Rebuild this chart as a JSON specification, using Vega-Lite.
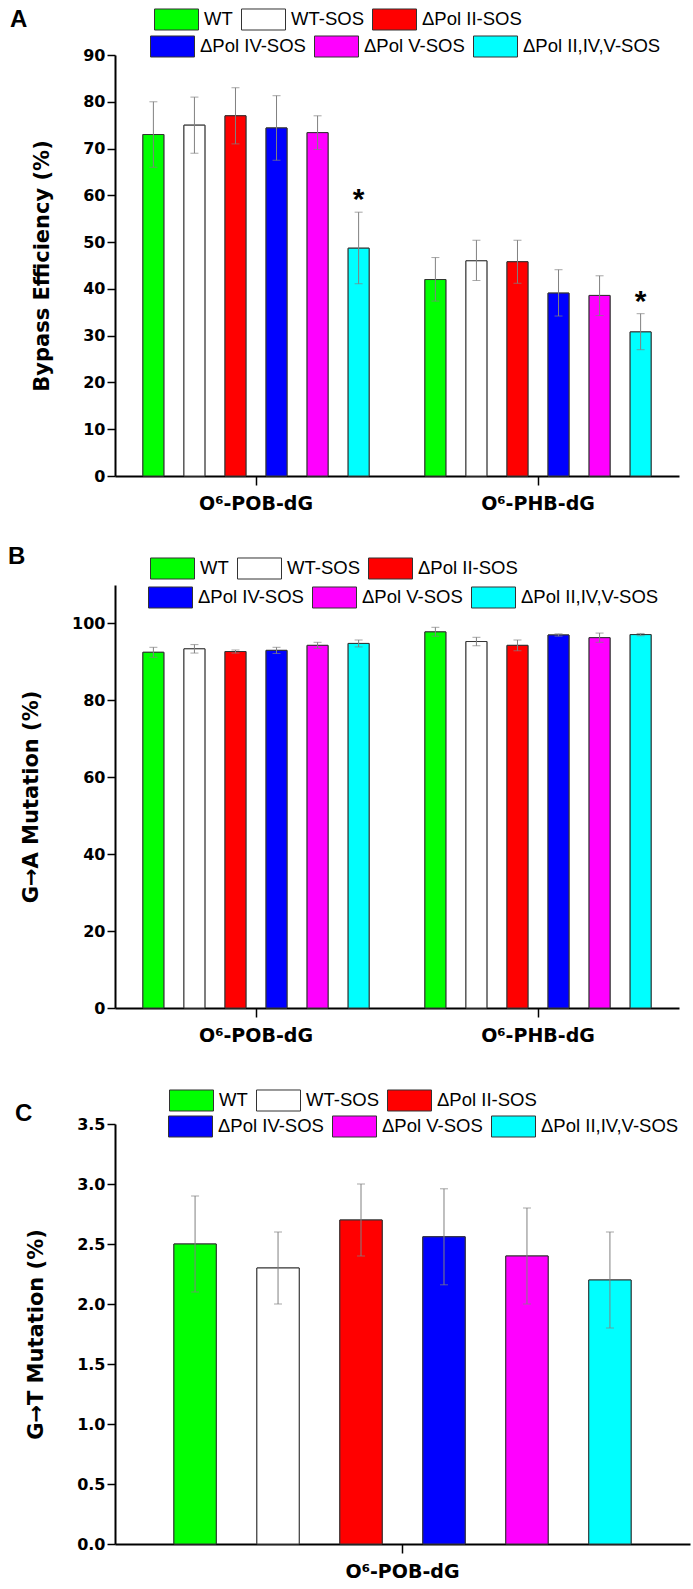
{
  "$schema": "https://vega.github.io/schema/vega-lite/v6.json",
  "padding": {"left": 8, "top": 7, "right": 5, "bottom": 0},
  "spacing": 43,
  "datasets": {
    "a": [
      {"group": "O⁶-POB-dG", "strain": "WT", "value": 73.0, "lo": 66.0, "hi": 80.0, "sig": ""},
      {"group": "O⁶-POB-dG", "strain": "WT-SOS", "value": 75.0, "lo": 69.0, "hi": 81.0, "sig": ""},
      {"group": "O⁶-POB-dG", "strain": "ΔPol II-SOS", "value": 77.0, "lo": 71.0, "hi": 83.0, "sig": ""},
      {"group": "O⁶-POB-dG", "strain": "ΔPol IV-SOS", "value": 74.4, "lo": 67.5, "hi": 81.3, "sig": ""},
      {"group": "O⁶-POB-dG", "strain": "ΔPol V-SOS", "value": 73.4, "lo": 69.8, "hi": 77.0, "sig": ""},
      {"group": "O⁶-POB-dG", "strain": "ΔPol II,IV,V-SOS", "value": 48.7, "lo": 41.1, "hi": 56.4, "sig": "*"},
      {"group": "O⁶-PHB-dG", "strain": "WT", "value": 42.0, "lo": 37.4, "hi": 46.7, "sig": ""},
      {"group": "O⁶-PHB-dG", "strain": "WT-SOS", "value": 46.0, "lo": 41.8, "hi": 50.4, "sig": ""},
      {"group": "O⁶-PHB-dG", "strain": "ΔPol II-SOS", "value": 45.8, "lo": 41.2, "hi": 50.4, "sig": ""},
      {"group": "O⁶-PHB-dG", "strain": "ΔPol IV-SOS", "value": 39.1, "lo": 34.2, "hi": 44.1, "sig": ""},
      {"group": "O⁶-PHB-dG", "strain": "ΔPol V-SOS", "value": 38.6, "lo": 34.3, "hi": 42.8, "sig": ""},
      {"group": "O⁶-PHB-dG", "strain": "ΔPol II,IV,V-SOS", "value": 30.8, "lo": 27.0, "hi": 34.7, "sig": "*"}
    ],
    "b": [
      {"group": "O⁶-POB-dG", "strain": "WT", "value": 92.5, "lo": 91.2, "hi": 93.8},
      {"group": "O⁶-POB-dG", "strain": "WT-SOS", "value": 93.4, "lo": 92.3, "hi": 94.5},
      {"group": "O⁶-POB-dG", "strain": "ΔPol II-SOS", "value": 92.7, "lo": 92.3, "hi": 93.1},
      {"group": "O⁶-POB-dG", "strain": "ΔPol IV-SOS", "value": 93.0, "lo": 92.2, "hi": 93.8},
      {"group": "O⁶-POB-dG", "strain": "ΔPol V-SOS", "value": 94.3, "lo": 93.5, "hi": 95.1},
      {"group": "O⁶-POB-dG", "strain": "ΔPol II,IV,V-SOS", "value": 94.8, "lo": 93.9, "hi": 95.7},
      {"group": "O⁶-PHB-dG", "strain": "WT", "value": 97.8, "lo": 96.7, "hi": 99.0},
      {"group": "O⁶-PHB-dG", "strain": "WT-SOS", "value": 95.3, "lo": 94.2, "hi": 96.4},
      {"group": "O⁶-PHB-dG", "strain": "ΔPol II-SOS", "value": 94.3, "lo": 92.9, "hi": 95.7},
      {"group": "O⁶-PHB-dG", "strain": "ΔPol IV-SOS", "value": 97.0, "lo": 96.7, "hi": 97.3},
      {"group": "O⁶-PHB-dG", "strain": "ΔPol V-SOS", "value": 96.3, "lo": 95.1, "hi": 97.5},
      {"group": "O⁶-PHB-dG", "strain": "ΔPol II,IV,V-SOS", "value": 97.1, "lo": 96.8, "hi": 97.4}
    ],
    "c": [
      {"group": "O⁶-POB-dG", "strain": "WT", "value": 2.5, "lo": 2.1, "hi": 2.9},
      {"group": "O⁶-POB-dG", "strain": "WT-SOS", "value": 2.3, "lo": 2.0, "hi": 2.6},
      {"group": "O⁶-POB-dG", "strain": "ΔPol II-SOS", "value": 2.7, "lo": 2.4, "hi": 3.0},
      {"group": "O⁶-POB-dG", "strain": "ΔPol IV-SOS", "value": 2.56, "lo": 2.16, "hi": 2.96},
      {"group": "O⁶-POB-dG", "strain": "ΔPol V-SOS", "value": 2.4, "lo": 2.0, "hi": 2.8},
      {"group": "O⁶-POB-dG", "strain": "ΔPol II,IV,V-SOS", "value": 2.2, "lo": 1.8, "hi": 2.6}
    ]
  },
  "vconcat": [
    {
      "data": {"name": "a"},
      "width": 564,
      "height": 421,
      "encoding": {
        "x": {"field": "group", "type": "nominal", "sort": null, "scale": {"paddingInner": 0, "paddingOuter": 0}, "axis": {"title": null}},
        "xOffset": {"field": "strain", "type": "nominal", "sort": null, "scale": {"paddingInner": 0.49, "paddingOuter": 0.68}}
      },
      "layer": [
        {
          "mark": {"type": "bar", "stroke": "#333333", "strokeWidth": 1},
          "encoding": {
            "y": {"field": "value", "type": "quantitative", "scale": {"domain": [0, 90], "nice": false},
              "axis": {"title": "Bypass Efficiency (%)", "values": [0,5,10,15,20,25,30,35,40,45,50,55,60,65,70,75,80,85,90],
                "labelExpr": "datum.value % 10 === 0 ? datum.label : ''",
                "tickSize": {"condition": {"test": "datum.value % 10 === 0", "value": 8}, "value": 4}}},
            "fill": {"field": "strain", "type": "nominal", "sort": null,
              "scale": {"domain": ["WT", "WT-SOS", "ΔPol II-SOS", "ΔPol IV-SOS", "ΔPol V-SOS", "ΔPol II,IV,V-SOS"], "range": ["#00ff00", "#ffffff", "#ff0000", "#0000ff", "#ff00ff", "#00ffff"]},
              "legend": {"title": "A", "values": ["WT", "WT-SOS", "ΔPol II-SOS"], "orient": "none", "legendX": -105, "legendY": -47.5, "titleOrient": "left", "titleAnchor": "middle", "titlePadding": 126, "direction": "horizontal"}}
          }
        },
        {
          "mark": {"type": "bar", "stroke": "#333333", "strokeWidth": 1},
          "encoding": {
            "y": {"field": "value", "type": "quantitative"},
            "fill": {"field": "strain", "type": "nominal", "sort": null,
              "scale": {"domain": ["WT", "WT-SOS", "ΔPol II-SOS", "ΔPol IV-SOS", "ΔPol V-SOS", "ΔPol II,IV,V-SOS"], "range": ["#00ff00", "#ffffff", "#ff0000", "#0000ff", "#ff00ff", "#00ffff"]},
              "legend": {"title": null, "values": ["ΔPol IV-SOS", "ΔPol V-SOS", "ΔPol II,IV,V-SOS"], "orient": "none", "legendX": 35, "legendY": -20.5, "direction": "horizontal"}}
          }
        },
        {"mark": {"type": "rule", "color": "#808080", "strokeWidth": 1}, "encoding": {"y": {"field": "lo", "type": "quantitative"}, "y2": {"field": "hi"}}},
        {"mark": {"type": "tick", "color": "#808080", "thickness": 1, "size": 8}, "encoding": {"y": {"field": "lo", "type": "quantitative"}}},
        {"mark": {"type": "tick", "color": "#808080", "thickness": 1, "size": 8}, "encoding": {"y": {"field": "hi", "type": "quantitative"}}},
        {"transform": [{"filter": "datum.sig === '*'"}],
          "mark": {"type": "text", "font": "Liberation Sans", "fontSize": 30, "fontWeight": "bold", "baseline": "middle", "dy": -12, "color": "#000"},
          "encoding": {"y": {"field": "hi", "type": "quantitative"}, "text": {"field": "sig"}}}
      ],
      "resolve": {"scale": {"fill": "independent"}, "legend": {"fill": "independent"}}
    },
    {
      "data": {"name": "b"},
      "width": 564,
      "height": 423,
      "encoding": {
        "x": {"field": "group", "type": "nominal", "sort": null, "scale": {"paddingInner": 0, "paddingOuter": 0}, "axis": {"title": null}},
        "xOffset": {"field": "strain", "type": "nominal", "sort": null, "scale": {"paddingInner": 0.49, "paddingOuter": 0.68}}
      },
      "layer": [
        {
          "mark": {"type": "bar", "stroke": "#333333", "strokeWidth": 1},
          "encoding": {
            "y": {"field": "value", "type": "quantitative", "scale": {"domain": [0, 110], "nice": false},
              "axis": {"title": "G→A Mutation (%)", "values": [0,10,20,30,40,50,60,70,80,90,100,110],
                "labelExpr": "datum.value % 20 === 0 && datum.value <= 100 ? datum.label : ''",
                "tickSize": {"condition": {"test": "datum.value % 20 === 0", "value": 8}, "value": 4}}},
            "fill": {"field": "strain", "type": "nominal", "sort": null,
              "scale": {"domain": ["WT", "WT-SOS", "ΔPol II-SOS", "ΔPol IV-SOS", "ΔPol V-SOS", "ΔPol II,IV,V-SOS"], "range": ["#00ff00", "#ffffff", "#ff0000", "#0000ff", "#ff00ff", "#00ffff"]},
              "legend": {"title": "B", "values": ["WT", "WT-SOS", "ΔPol II-SOS"], "orient": "none", "legendX": -107, "legendY": -28.5, "titleOrient": "left", "titleAnchor": "start", "titleBaseline": "middle", "titlePadding": 124, "direction": "horizontal"}}
          }
        },
        {
          "mark": {"type": "bar", "stroke": "#333333", "strokeWidth": 1},
          "encoding": {
            "y": {"field": "value", "type": "quantitative"},
            "fill": {"field": "strain", "type": "nominal", "sort": null,
              "scale": {"domain": ["WT", "WT-SOS", "ΔPol II-SOS", "ΔPol IV-SOS", "ΔPol V-SOS", "ΔPol II,IV,V-SOS"], "range": ["#00ff00", "#ffffff", "#ff0000", "#0000ff", "#ff00ff", "#00ffff"]},
              "legend": {"title": null, "values": ["ΔPol IV-SOS", "ΔPol V-SOS", "ΔPol II,IV,V-SOS"], "orient": "none", "legendX": 33, "legendY": 0.5, "direction": "horizontal"}}
          }
        },
        {"mark": {"type": "rule", "color": "#808080", "strokeWidth": 1}, "encoding": {"y": {"field": "lo", "type": "quantitative"}, "y2": {"field": "hi"}}},
        {"mark": {"type": "tick", "color": "#808080", "thickness": 1, "size": 8}, "encoding": {"y": {"field": "lo", "type": "quantitative"}}},
        {"mark": {"type": "tick", "color": "#808080", "thickness": 1, "size": 8}, "encoding": {"y": {"field": "hi", "type": "quantitative"}}}
      ],
      "resolve": {"scale": {"fill": "independent"}, "legend": {"fill": "independent"}}
    },
    {
      "data": {"name": "c"},
      "width": 575,
      "height": 420,
      "encoding": {
        "x": {"field": "group", "type": "nominal", "sort": null, "scale": {"paddingInner": 0, "paddingOuter": 0}, "axis": {"title": null}},
        "xOffset": {"field": "strain", "type": "nominal", "sort": null, "scale": {"paddingInner": 0.49, "paddingOuter": 0.71}}
      },
      "layer": [
        {
          "mark": {"type": "bar", "stroke": "#333333", "strokeWidth": 1},
          "encoding": {
            "y": {"field": "value", "type": "quantitative", "scale": {"domain": [0, 3.5], "nice": false},
              "axis": {"title": "G→T Mutation (%)", "values": [0,0.25,0.5,0.75,1,1.25,1.5,1.75,2,2.25,2.5,2.75,3,3.25,3.5],
                "labelExpr": "(datum.value * 2) % 1 === 0 ? format(datum.value, '.1f') : ''",
                "tickSize": {"condition": {"test": "(datum.value * 2) % 1 === 0", "value": 8}, "value": 4}}},
            "fill": {"field": "strain", "type": "nominal", "sort": null,
              "scale": {"domain": ["WT", "WT-SOS", "ΔPol II-SOS", "ΔPol IV-SOS", "ΔPol V-SOS", "ΔPol II,IV,V-SOS"], "range": ["#00ff00", "#ffffff", "#ff0000", "#0000ff", "#ff00ff", "#00ffff"]},
              "legend": {"title": "C", "values": ["WT", "WT-SOS", "ΔPol II-SOS"], "orient": "none", "legendX": -100, "legendY": -35.5, "titleOrient": "left", "titleAnchor": "end", "titleBaseline": "middle", "titlePadding": 136, "direction": "horizontal"}}
          }
        },
        {
          "mark": {"type": "bar", "stroke": "#333333", "strokeWidth": 1},
          "encoding": {
            "y": {"field": "value", "type": "quantitative"},
            "fill": {"field": "strain", "type": "nominal", "sort": null,
              "scale": {"domain": ["WT", "WT-SOS", "ΔPol II-SOS", "ΔPol IV-SOS", "ΔPol V-SOS", "ΔPol II,IV,V-SOS"], "range": ["#00ff00", "#ffffff", "#ff0000", "#0000ff", "#ff00ff", "#00ffff"]},
              "legend": {"title": null, "values": ["ΔPol IV-SOS", "ΔPol V-SOS", "ΔPol II,IV,V-SOS"], "orient": "none", "legendX": 53, "legendY": -9.5, "direction": "horizontal"}}
          }
        },
        {"mark": {"type": "rule", "color": "#808080", "strokeWidth": 1}, "encoding": {"y": {"field": "lo", "type": "quantitative"}, "y2": {"field": "hi"}}},
        {"mark": {"type": "tick", "color": "#808080", "thickness": 1, "size": 8}, "encoding": {"y": {"field": "lo", "type": "quantitative"}}},
        {"mark": {"type": "tick", "color": "#808080", "thickness": 1, "size": 8}, "encoding": {"y": {"field": "hi", "type": "quantitative"}}}
      ],
      "resolve": {"scale": {"fill": "independent"}, "legend": {"fill": "independent"}}
    }
  ],
  "resolve": {
    "scale": {"x": "independent", "y": "independent", "xOffset": "independent", "fill": "independent"},
    "legend": {"fill": "independent"}
  },
  "config": {
    "view": {"stroke": null},
    "axis": {
      "grid": false,
      "domainColor": "#000000",
      "domainWidth": 2,
      "tickColor": "#000000",
      "tickWidth": 1.5,
      "labelColor": "#000000",
      "labelFont": "DejaVu Sans",
      "labelFontWeight": "bold",
      "titleColor": "#000000",
      "titleFont": "DejaVu Sans",
      "titleFontWeight": "bold"
    },
    "axisY": {"labelFontSize": 16, "labelPadding": 2, "titleFontSize": 21, "titlePadding": 30},
    "axisX": {"labelFontSize": 19, "labelAngle": 0, "tickSize": 9, "labelPadding": 9},
    "legend": {
      "symbolType": "M-1,-0.955H3V0.955H-1Z",
      "symbolSize": 484,
      "symbolStrokeColor": "#333333",
      "symbolStrokeWidth": 1,
      "symbolOpacity": 1,
      "labelFont": "Liberation Sans",
      "labelFontSize": 18.5,
      "labelColor": "#000000",
      "labelOffset": 27,
      "labelLimit": 0,
      "columnPadding": 6,
      "rowPadding": 6,
      "padding": 0,
      "titleFont": "Liberation Sans",
      "titleFontSize": 24,
      "titleFontWeight": "bold",
      "titleColor": "#000000",
      "titleLimit": 0
    }
  }
}
